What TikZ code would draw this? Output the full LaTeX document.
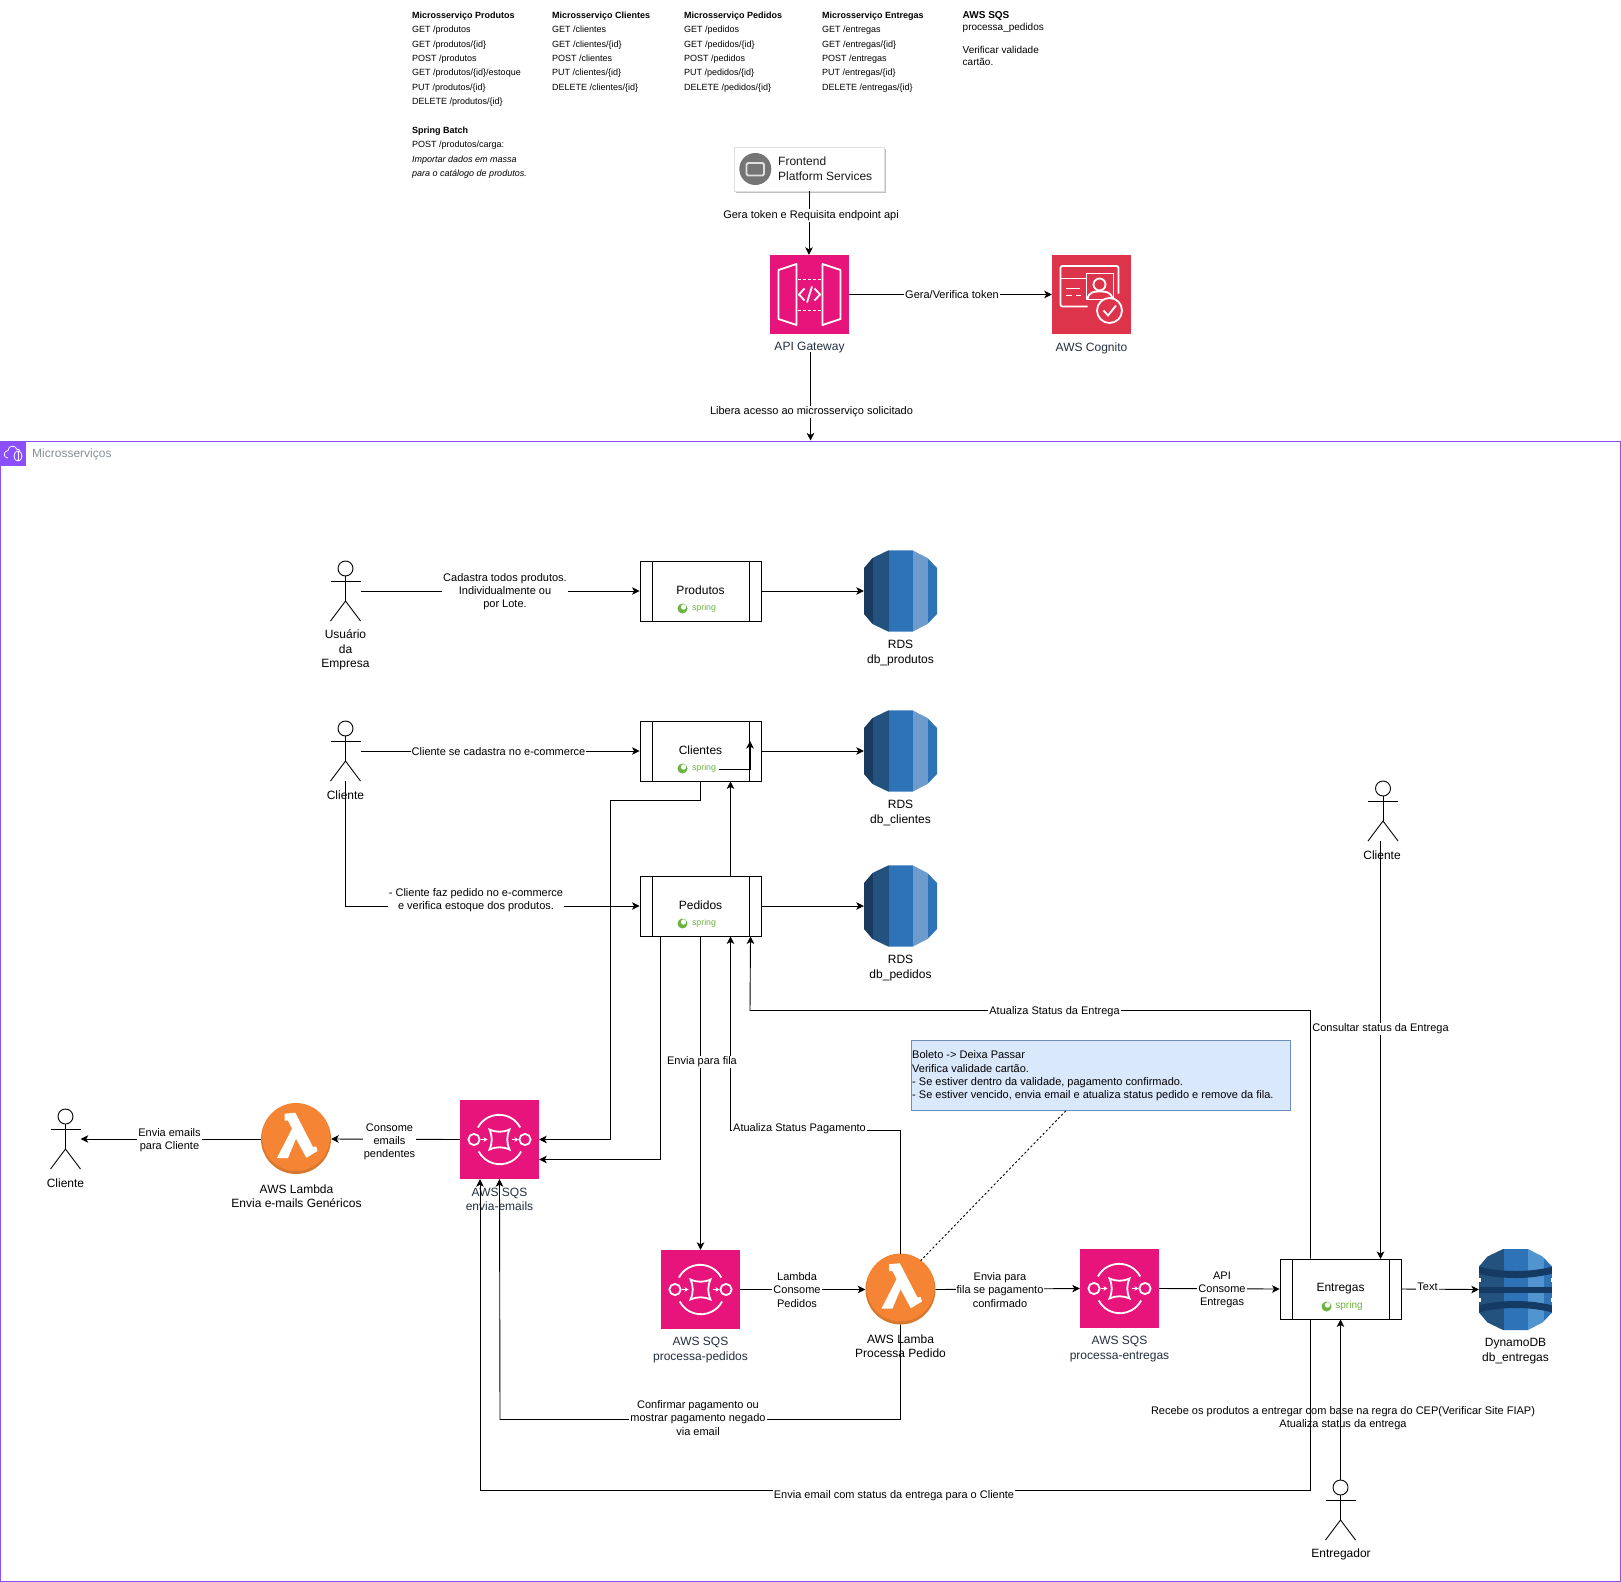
\documentclass[tikz,border=0pt]{standalone}
\usepackage{fontspec}
\setmainfont{Liberation Sans}
\usetikzlibrary{arrows.meta}
\definecolor{awspink}{HTML}{E7157B}
\definecolor{awsred}{HTML}{DD344C}
\definecolor{awsorange}{HTML}{F58534}
\definecolor{awsorangedk}{HTML}{D8782C}
\definecolor{awspurple}{HTML}{8C4FFF}
\definecolor{awsink}{HTML}{232F3E}
\definecolor{grouptext}{HTML}{879196}
\definecolor{springgreen}{HTML}{6DB33F}
\definecolor{dbA}{HTML}{1A3A5F}
\definecolor{dbB}{HTML}{23527F}
\definecolor{dbC}{HTML}{2E73B8}
\definecolor{dbD}{HTML}{6D9CCC}
\definecolor{dbE}{HTML}{5294CF}
\definecolor{dbBand}{HTML}{153A63}
\definecolor{notefill}{HTML}{DAE8FC}
\definecolor{noteline}{HTML}{6C8EBF}
\tikzset{
  conn/.style={line width=0.9pt,-{Stealth[length=7.5pt,width=7.5pt,inset=2pt]}},
  edgelbl/.style={fill=white,inner sep=1pt,align=center,font=\fontsize{11}{13.2}\selectfont},
  iconlbl/.style={inner sep=0pt,align=center,font=\fontsize{12}{14.4}\selectfont},
  svclbl/.style={iconlbl,text=awsink},
  listtxt/.style={inner sep=0pt,anchor=north west,align=left,font=\fontsize{9}{14.4}\selectfont},
  svcbox/.style={draw=black,line width=0.9pt,fill=white,minimum width=121pt,minimum height=60pt,inner sep=0pt,font=\fontsize{12}{14.4}\selectfont,
    path picture={
      \draw[line width=0.9pt] ([xshift=12pt]path picture bounding box.north west) -- ([xshift=12pt]path picture bounding box.south west);
      \draw[line width=0.9pt] ([xshift=-12pt]path picture bounding box.north east) -- ([xshift=-12pt]path picture bounding box.south east);
    }},
  sqsbox/.style={fill=awspink,minimum width=79pt,minimum height=79pt,inner sep=0pt},
  cogbox/.style={fill=awsred,minimum width=79pt,minimum height=79pt,inner sep=0pt},
  lambdabox/.style={circle,inner sep=0pt,minimum size=70pt},
  dbbox/.style={minimum width=73pt,minimum height=81pt,inner sep=0pt},
  actorbox/.style={minimum width=30pt,minimum height=60pt,inner sep=0pt},
  whitemark/.style={draw=white,line width=1.8pt},
  pics/sqsmark/.style={code={
    \draw[whitemark] (20.8,-12) arc[start angle=28,end angle=152,radius=24pt];
    \draw[whitemark] (-20.8,12) arc[start angle=208,end angle=332,radius=24pt];
    \draw[whitemark] (-25.5,0) circle[radius=5.6pt];
    \draw[whitemark] (25.5,0) circle[radius=5.6pt];
    \draw[whitemark] (-10,-10) .. controls (-3,-7) and (3,-7) .. (10,-10) .. controls (7,-3) and (7,3) .. (10,10) .. controls (3,7) and (-3,7) .. (-10,10) .. controls (-7,3) and (-7,-3) .. (-10,-10) -- cycle;
    \draw[whitemark,-{Stealth[length=4pt,width=4.5pt]}] (-19,0) -- (-12,0);
    \draw[whitemark,-{Stealth[length=4pt,width=4.5pt]}] (12,0) -- (19,0);
  }},
  pics/apimark/.style={code={
    \draw[whitemark,line join=round] (-31,-24.5) -- (-13,-30.5) -- (-13,30.5) -- (-31,24.5) -- cycle;
    \draw[whitemark,line join=round] (31,-24.5) -- (13,-30.5) -- (13,30.5) -- (31,24.5) -- cycle;
    \draw[whitemark,dash pattern=on 3pt off 2pt] (-12,-15) -- (12,-15);
    \draw[whitemark,dash pattern=on 3pt off 2pt] (-12,16) -- (12,16);
    \draw[whitemark] (-5,-6) -- (-10.5,0) -- (-5,6);
    \draw[whitemark] (5,-6) -- (10.5,0) -- (5,6);
    \draw[whitemark] (2.5,-8) -- (-2.5,8);
  }},
  pics/cogmark/.style={code={
    \draw[whitemark,rounded corners=2pt] (-4,12) -- (-31,12) -- (-31,-28.5) -- (27,-28.5) -- (27,-1);
    \draw[whitemark] (-31,-16) -- (-5,-16);
    \draw[whitemark] (-5,-21) rectangle (22,5);
    \draw[whitemark] (8,-10) circle[radius=6pt];
    \draw[whitemark] (-4,5) .. controls (-3,-3) and (3,-3) .. (8,-3) .. controls (14,-3) and (20,-3) .. (21,5);
    \draw[whitemark] (-26,-6) -- (-11.5,-6);
    \draw[whitemark] (-26,1) -- (-20,1);
    \draw[whitemark] (-16,1) -- (-10.5,1);
    \draw[whitemark,fill=awsred] (18,16) circle[radius=12.5pt];
    \draw[whitemark] (12,16) -- (16.5,21) -- (24.5,11);
  }},
  pics/lambdamark/.style={code={
    \fill[white] (-11.3,-24.3) -- (-0.7,-25.3) -- (17,9) -- (20.3,8.5) -- (21.5,13) -- (10.3,19.7) -- (0,0.7) -- (-8,20) -- (-19,20) -- (-4,-9.3) -- (-8,-17.3) -- (-11.3,-17.3) -- cycle;
  }},
  pics/rdsmark/.style={code={
    \begin{scope}
      \clip (-36.5,-23) -- (-28,-33) -- (-12,-40.7) -- (12,-40.7) -- (27,-33) -- (36.5,-23) -- (36.5,23) -- (27,33) -- (12,40.7) -- (-12,40.7) -- (-28,33) -- (-36.5,23) -- cycle;
      \fill[dbA] (-37,-41) rectangle (-28,41);
      \fill[dbB] (-28,-41) rectangle (-12,41);
      \fill[dbC] (-12,-41) rectangle (12,41);
      \fill[dbD] (12,-41) rectangle (27,41);
      \fill[dbC] (27,-41) rectangle (37,41);
    \end{scope}
  }},
  pics/dynmark/.style={code={
    \begin{scope}
      \clip (-36.5,-23) -- (-28,-33) -- (-12,-40.7) -- (12,-40.7) -- (27,-33) -- (36.5,-23) -- (36.5,23) -- (27,33) -- (12,40.7) -- (-12,40.7) -- (-28,33) -- (-36.5,23) -- cycle;
      \fill[dbB] (-37,-41) rectangle (-12,41);
      \fill[dbC] (-12,-41) rectangle (12,41);
      \fill[dbE] (12,-41) rectangle (28,41);
      \fill[dbC] (28,-41) rectangle (37,41);
      \fill[dbBand] (-37,-23) .. controls (-15,-17) and (15,-17) .. (37,-23) -- (37,-16) .. controls (15,-10) and (-15,-10) .. (-37,-16) -- cycle;
      \fill[dbBand] (-37,-3) rectangle (37,3);
      \fill[dbBand] (-37,23) .. controls (-15,17) and (15,17) .. (37,23) -- (37,16) .. controls (15,10) and (-15,10) .. (-37,16) -- cycle;
      \fill[white] (-37,-12) rectangle (-35,-8);
      \fill[white] (35,-12) rectangle (37,-8);
      \fill[white] (-37,8) rectangle (-35,12);
      \fill[white] (35,8) rectangle (37,12);
    \end{scope}
  }},
  pics/actormark/.style={code={
    \draw[line width=0.9pt] (0,-22.5) circle[radius=7.5pt];
    \draw[line width=0.9pt] (0,-15) -- (0,10);
    \draw[line width=0.9pt] (-15,-10) -- (15,-10);
    \draw[line width=0.9pt] (-15,30) -- (0,10) -- (15,30);
  }},
  pics/springmark/.style args={#1/#2/#3}{code={
    \fill[springgreen] (#1,17.5) circle[radius=5pt];
    \fill[white] (#1+1,16) circle[radius=2.7pt];
    \node[inner sep=0pt,text=springgreen,font=\fontsize{#3}{#3}\selectfont] at (#2,17) {spring};
  }},
}
\begin{document}
\begin{tikzpicture}[x=1pt,y=-1pt]
\useasboundingbox (0,0) rectangle (1621,1581);
% group
\node[draw=awspurple,line width=0.9pt,fill=white,minimum width=1620pt,minimum height=1140pt,inner sep=0pt,anchor=north west] (grp) at (0.4,440.5) {};
\node[fill=awspurple,minimum width=25pt,minimum height=25pt,inner sep=0pt,anchor=north west] (grpicon) at (0.4,440.5) {};
\draw[draw=white,line width=0.8pt,line join=round] (8,458) .. controls (3,458) and (3,451) .. (8,450.5) .. controls (8,445) and (16,445) .. (17,449.5) .. controls (19,449) and (20,450) .. (20,451);
\draw[draw=white,line width=0.8pt] (18,456) ellipse[x radius=4pt,y radius=5pt];
\draw[draw=white,line width=0.6pt] (18,451) -- (18,461);
\node[inner sep=0pt,anchor=west,text=grouptext,font=\fontsize{12}{14}\selectfont] (grplbl) at (32,454.5) {Microsserviços};

% endpoint lists
\node[listtxt] (listA) at (412,11.5) {\textbf{Microsserviço Produtos}\\GET /produtos\\GET /produtos/\{id\}\\POST /produtos\\GET /produtos/\{id\}/estoque\\PUT /produtos/\{id\}\\DELETE /produtos/\{id\}\\[14.4pt]\textbf{Spring Batch}\\POST /produtos/carga:\\\textit{Importar dados em massa}\\\textit{para o catálogo de produtos.}};
\node[listtxt] (listB) at (552,11.5) {\textbf{Microsserviço Clientes}\\GET /clientes\\GET /clientes/\{id\}\\POST /clientes\\PUT /clientes/\{id\}\\DELETE /clientes/\{id\}};
\node[listtxt] (listC) at (684,11.5) {\textbf{Microsserviço Pedidos}\\GET /pedidos\\GET /pedidos/\{id\}\\POST /pedidos\\PUT /pedidos/\{id\}\\DELETE /pedidos/\{id\}};
\node[listtxt] (listD) at (822,11.5) {\textbf{Microsserviço Entregas}\\GET /entregas\\GET /entregas/\{id\}\\POST /entregas\\PUT /entregas/\{id\}\\DELETE /entregas/\{id\}};
\node[inner sep=0pt,anchor=north west,align=left,font=\fontsize{10}{11.7}\selectfont] (listE) at (962.5,11.5) {\textbf{AWS SQS}\\processa\_pedidos\\[11.7pt]Verificar validade\\cartão.};

% frontend
\fill[black!25] (736,149) rectangle (886,193);
\node[draw=black!12,fill=white,line width=0.9pt,minimum width=150pt,minimum height=44pt,inner sep=0pt] (front) at (809,169) {};
\fill[black!54] (755.3,169) circle[radius=16pt];
\draw[fill=black!54,draw=black!12,line width=1.8pt,rounded corners=1.5pt] (746.5,163) rectangle (764,175.5);
\node[inner sep=0pt,anchor=west,align=left,text=black!90,font=\fontsize{12}{14.6}\selectfont] (frontlbl) at (778,168.5) {Frontend\\Platform Services};

% icon nodes
\node[sqsbox] (api) at (809.5,294.5) {}; \pic at (api.center) {apimark};
\node[cogbox] (cog) at (1091.5,294.5) {}; \pic at (cog.center) {cogmark};
\node[iconlbl,text=awsink] (apilbl) at (809.5,348) {API Gateway};
\node[iconlbl,text=awsink] (coglbl) at (1091.5,348) {AWS Cognito};

\node[svcbox] (prod) at (700.5,591) {Produtos\vphantom{g}}; 
\node[svcbox] (cli) at (700.5,751) {Clientes\vphantom{g}};
\node[svcbox] (ped) at (700.5,906) {Pedidos\vphantom{g}};
\node[svcbox] (ent) at (1340.5,1289) {Entregas\vphantom{g}};
\pic at (prod.center) {springmark={-18/3.5/8.8}};
\pic at (cli.center) {springmark={-18/3.5/8.8}};
\pic at (ped.center) {springmark={-18/3.5/8.8}};
\pic at (ent.center) {springmark={-14/8.5/10}};

\node[dbbox] (rdsA) at (900.5,591) {}; \pic at (rdsA.center) {rdsmark};
\node[dbbox] (rdsB) at (900.5,751) {}; \pic at (rdsB.center) {rdsmark};
\node[dbbox] (rdsC) at (900.5,906) {}; \pic at (rdsC.center) {rdsmark};
\node[dbbox] (dyn) at (1515.5,1289.5) {}; \pic at (dyn.center) {dynmark};

\node[sqsbox] (sqsE) at (499.5,1139.5) {}; \pic at (sqsE.center) {sqsmark};
\node[sqsbox] (sqsP) at (700.5,1289.5) {}; \pic at (sqsP.center) {sqsmark};
\node[sqsbox] (sqsD) at (1119.5,1288.5) {}; \pic at (sqsD.center) {sqsmark};

\node[lambdabox,fill=awsorangedk] (lamG) at (296,1139) {};
\fill[awsorange] (296,1137) circle[radius=34pt];
\pic at (296,1138) {lambdamark};
\node[lambdabox,fill=awsorangedk] (lamP) at (900.5,1289.5) {};
\fill[awsorange] (900.5,1287.5) circle[radius=34pt];
\pic at (900.5,1288.5) {lambdamark};

% actors
\node[actorbox] (actU) at (345.5,591) {}; \pic at (actU.center) {actormark};
\node[actorbox] (actC) at (345.5,751) {}; \pic at (actC.center) {actormark};
\node[actorbox] (actR) at (1383,811) {}; \pic at (actR.center) {actormark};
\node[actorbox] (actL) at (65.5,1139) {}; \pic at (actL.center) {actormark};
\node[actorbox] (actE) at (1340.5,1510) {}; \pic at (actE.center) {actormark};

% icon texts
\node[iconlbl] (lblU) at (345.5,650) {Usuário\\da\\Empresa};
\node[iconlbl] (lblC) at (345.5,795) {Cliente};
\node[iconlbl] (lblR) at (1382,855) {Cliente};
\node[iconlbl] (lblL) at (65.5,1183) {Cliente};
\node[iconlbl] (lblE) at (1341,1554) {Entregador};
\node[iconlbl] (lblRA) at (900.5,653) {RDS\\db\_produtos};
\node[iconlbl] (lblRB) at (900.5,813) {RDS\\db\_clientes};
\node[iconlbl] (lblRC) at (900.5,968) {RDS\\db\_pedidos};
\node[iconlbl] (lblD) at (1515.5,1351) {DynamoDB\\db\_entregas};
\node[iconlbl] (lblLG) at (296.5,1196) {AWS Lambda\\Envia e-mails Genéricos};
\node[iconlbl] (lblLP) at (900.5,1346) {AWS Lamba\\Processa Pedido};
\node[svclbl] (lblSE) at (499.5,1199.5) {AWS SQS\\envia-emails};
\node[svclbl] (lblSP) at (700.5,1350) {AWS SQS\\processa-pedidos};
\node[svclbl] (lblSD) at (1119.5,1349) {AWS SQS\\processa-entregas};

% note
\node[draw=noteline,fill=notefill,line width=0.8pt,minimum width=379pt,minimum height=70pt,inner sep=0pt,anchor=north west] (note) at (911,1040) {};
\node[inner sep=0pt,anchor=west,align=left,font=\fontsize{11}{13.4}\selectfont] (notetxt) at (912,1076) {Boleto -> Deixa Passar\\Verifica validade cartão.\\- Se estiver dentro da validade, pagamento confirmado.\\- Se estiver vencido, envia email e atualiza status pedido e remove da fila.};
\draw[line width=0.9pt,dash pattern=on 2.2pt off 2.2pt] ([xshift=-225pt]note.north east |- note.south) -- (lamP.55);

% connectors
\draw[conn] (front.south) -- (front.south |- api.north);
\draw[conn] (api.east) -- (cog.west);
\draw[conn] ([xshift=1pt,yshift=-4pt]apilbl.center) -- (810.5,440.5);
\draw[conn] (actU.east) -- (prod.west);
\draw[conn] (prod.east) -- (rdsA.west);
\draw[conn] (actC.east) -- (cli.west);
\draw[conn] (cli.east) -- (rdsB.west);
\draw[conn] (actC.south) -- (345.5,906) -- (ped.west);
\draw[conn] (ped.east) -- (rdsC.west);
\draw[conn] (cli.center) ++(18.5,18) -- ++(31,0) -- ++(0,-28);
\draw[conn] (cli.south) |- (610.5,800) |- (sqsE.east);
\draw[conn] ([xshift=-40pt]ped.south) |- ([yshift=-20pt]sqsE.east);
\draw[conn] ([xshift=30pt]ped.north) -- ([xshift=30pt]cli.south);
\draw[conn] (ped.south) -- (sqsP.north);
\draw[conn] (lamP.north) |- (730.5,1130) -- ([xshift=30pt]ped.south);
\draw[conn] (lamP.south) |- (500,1419.5) -- (sqsE.south);
\draw[conn] (sqsP.east) -- (lamP.west);
\draw[conn] (lamP.east) -- (sqsD.west);
\draw[conn] (sqsD.east) -- (ent.west);
\draw[conn] (ent.east) -- (dyn.west);
\draw[conn] (sqsE.west) -- (lamG.east);
\draw[conn] (lamG.west) -- (actL.east);
\draw[conn] (1380.5,841) -- (1380.5,1259);

% edge labels
\node[edgelbl] (eA) at (811,215.5) {Gera token e Requisita endpoint api};
\node[edgelbl] (eB) at (952,295) {Gera/Verifica token};
\node[edgelbl] (eC) at (811.5,412) {Libera acesso ao microsserviço solicitado};
\node[edgelbl] (eD) at (505,591.5) {Cadastra todos produtos.\\Individualmente ou\\por Lote.};
\node[edgelbl] (eE) at (498.5,751.5) {Cliente se cadastra no e-commerce};
\node[edgelbl] (eF) at (476,900.5) {- Cliente faz pedido no e-commerce\\e verifica estoque dos produtos.};
\node[edgelbl] (eG) at (702,1062) {Envia para fila};
\node[edgelbl] (eH) at (799.5,1129) {Atualiza Status Pagamento};
\node[edgelbl] (eI) at (389.5,1141.5) {Consome\\emails\\pendentes};
\node[edgelbl] (eJ) at (169.5,1140.5) {Envia emails\\para Cliente};
\node[edgelbl] (eK) at (797,1290) {Lambda\\Consome\\Pedidos};
\node[edgelbl] (eL) at (1000,1290) {Envia para\\fila se pagamento\\confirmado};
\node[edgelbl] (eM) at (1222,1290) {API\\Consome\\Entregas};
\node[edgelbl] (eN) at (1427.5,1287) {Text};
\node[edgelbl] (eO) at (1380.5,1029) {Consultar status da Entrega};
\node[edgelbl] (eP) at (698,1418) {Confirmar pagamento ou\\mostrar pagamento negado\\via email};
\draw[conn] (actE.north) -- (ent.south);
\node[edgelbl,fill=none] (eQ) at (1343,1418.5) {Recebe os produtos a entregar com base na regra do CEP(Verificar Site FIAP)\\Atualiza status da entrega};
\draw[conn] ([xshift=-30pt]ent.north) |- (750,1010.5) -- ([xshift=50pt]ped.south);
\draw[conn] ([xshift=-30pt]ent.south) |- (480,1490) -- ([xshift=-19.5pt]sqsE.south);
\node[edgelbl] (eR) at (1054.5,1012) {Atualiza Status da Entrega};
\node[edgelbl] (eS) at (894,1495.5) {Envia email com status da entrega para o Cliente};
\end{tikzpicture}
\end{document}
